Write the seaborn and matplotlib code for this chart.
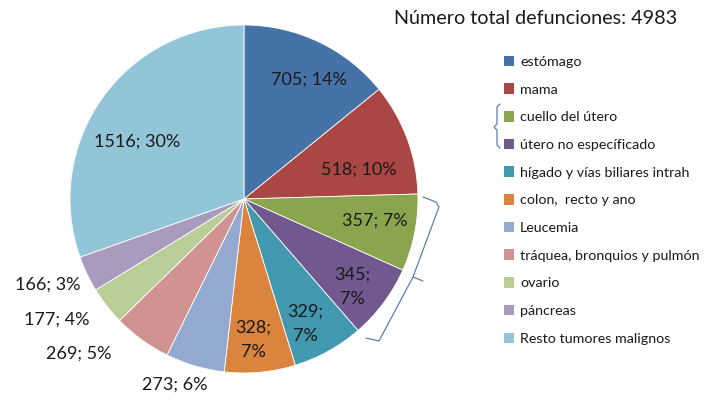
import matplotlib
matplotlib.use("Agg")
import matplotlib.pyplot as plt
from matplotlib.patches import Patch
import seaborn as sns
import numpy as np

# Cancer deaths by site
causes = [
    "estómago", "mama", "cuello del útero", "útero no específicado",
    "hígado y vías biliares intrah", "colon,  recto y ano", "Leucemia",
    "tráquea, bronquios y pulmón", "ovario", "páncreas", "Resto tumores malignos",
]
deaths = [705, 518, 357, 345, 329, 328, 273, 269, 177, 166, 1516]
percent = [14, 10, 7, 7, 7, 7, 6, 5, 4, 3, 30]
total_label = "Número total defunciones: 4983"

colors = ["#4572A7", "#AA4643", "#89A54E", "#71588F", "#4198AF", "#DB843D",
          "#93A9CF", "#D19392", "#B9CD96", "#A99BBD", "#92C5D8"]

# label placement: radius (in pie radii), angular nudge (deg), line break
label_radius = [0.78, 0.68, 0.76, 0.80, 0.80, 0.81, 1.14, 1.30, 1.28, 1.23, 0.70]
label_nudge = [-3, -6, 2, -2.5, -3, -1.6, -4, -11, -5, -2, 7]
label_wrap = [False, False, False, True, True, True, False, False, False, False, False]

sns.set_theme(style="white")
plt.rcParams["font.family"] = ["Lato", "DejaVu Sans"]

W, H = 717, 400
fig = plt.figure(figsize=(W / 100, H / 100), dpi=100)
fig.patch.set_facecolor("white")

cx, cy, R = 244, 199, 174
ax = fig.add_axes([(cx - R) / W, (H - cy - R) / H, 2 * R / W, 2 * R / H])
wedges, _ = ax.pie(deaths, colors=colors, startangle=90, counterclock=False,
                   radius=1.0, wedgeprops=dict(edgecolor="white", linewidth=0.6))
ax.set_xlim(-1, 1)
ax.set_ylim(-1, 1)
ax.set_aspect("equal")
ax.axis("off")

for w, v, p, r, nd, wrap in zip(wedges, deaths, percent, label_radius,
                                label_nudge, label_wrap):
    mid = np.deg2rad((w.theta1 + w.theta2) / 2 + nd)
    sep = ";\n" if wrap else "; "
    ax.text(r * np.cos(mid), r * np.sin(mid), f"{v}{sep}{p}%",
            ha="center", va="center", fontsize=13, color="#1a1a1a",
            linespacing=1.65, clip_on=False)

fig.text(536 / W, 1 - 18 / H, total_label, ha="center", va="center",
         fontsize=14.2, color="#1a1a1a")

handles = [Patch(facecolor=c, edgecolor="none") for c in colors]
fig.legend(handles, causes, loc="upper left",
           bbox_to_anchor=(498 / W, 1 - 50 / H), frameon=False,
           fontsize=10.3, handlelength=0.75, handleheight=0.75,
           handletextpad=0.4, labelspacing=1.08, borderaxespad=0,
           labelcolor="#1a1a1a")

# overlay in pixel units for the bracket annotations
ov = fig.add_axes([0, 0, 1, 1], facecolor="none")
ov.set_xlim(0, W)
ov.set_ylim(H, 0)
ov.axis("off")
bc = "#5B7FB5"
# bracket beside the two uterus entries in the legend
ov.plot([500, 497, 497, 494, 497, 497, 500],
        [104, 107, 124, 127, 130, 145, 148], color=bc, lw=0.9)
# bracket along the uterus slices
ov.plot([423, 436, 439, 413, 423], [197, 202, 207, 277, 281], color=bc, lw=0.9)
ov.plot([413, 379, 366], [277, 341, 338], color=bc, lw=0.9)

fig.savefig("out.png", dpi=100, facecolor="white")
